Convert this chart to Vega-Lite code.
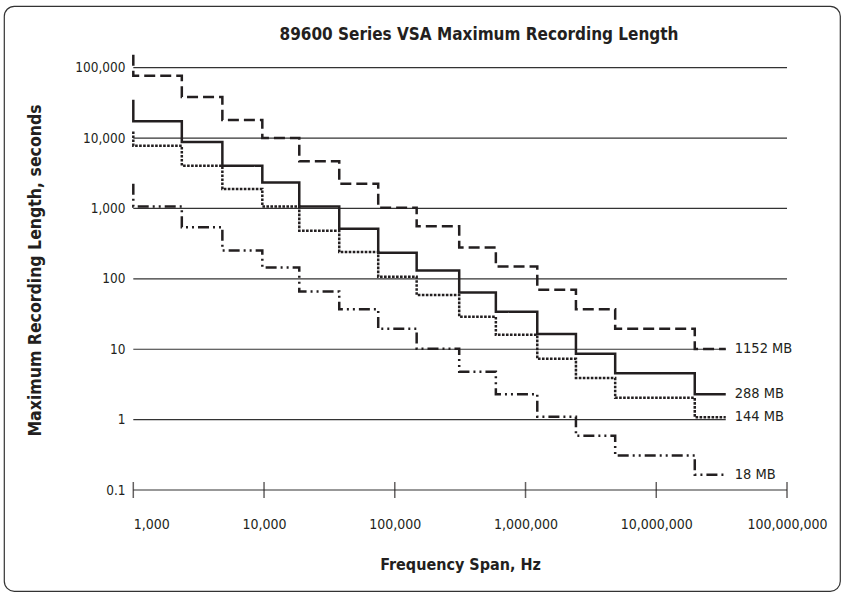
{
  "$schema": "https://vega.github.io/schema/vega-lite/v6.json",
  "description": "89600 Series VSA maximum recording length vs frequency span",
  "width": 836,
  "height": 585,
  "autosize": "none",
  "padding": {"left": 4, "top": 6, "right": 4, "bottom": 4},
  "background": "white",
  "title": {
    "text": "89600 Series VSA Maximum Recording Length",
    "fontSize": 17,
    "fontWeight": "bold",
    "color": "#231f20",
    "anchor": "middle",
    "frame": "group",
    "dx": 57,
    "offset": -38
  },
  "datasets": {
    "series": [
      {"series": "1152 MB", "idx": 0, "freq": 1000, "seconds": 153000},
      {"series": "1152 MB", "idx": 1, "freq": 1000, "seconds": 76800},
      {"series": "1152 MB", "idx": 2, "freq": 2350, "seconds": 38400},
      {"series": "1152 MB", "idx": 3, "freq": 4800, "seconds": 18000},
      {"series": "1152 MB", "idx": 4, "freq": 9700, "seconds": 10000},
      {"series": "1152 MB", "idx": 5, "freq": 18600, "seconds": 4700},
      {"series": "1152 MB", "idx": 6, "freq": 37600, "seconds": 2250},
      {"series": "1152 MB", "idx": 7, "freq": 74700, "seconds": 1020},
      {"series": "1152 MB", "idx": 8, "freq": 147000, "seconds": 560},
      {"series": "1152 MB", "idx": 9, "freq": 311000, "seconds": 280},
      {"series": "1152 MB", "idx": 10, "freq": 593000, "seconds": 150},
      {"series": "1152 MB", "idx": 11, "freq": 1230000, "seconds": 70},
      {"series": "1152 MB", "idx": 12, "freq": 2430000, "seconds": 37},
      {"series": "1152 MB", "idx": 13, "freq": 4850000, "seconds": 19.5},
      {"series": "1152 MB", "idx": 14, "freq": 19700000, "seconds": 10.1},
      {"series": "1152 MB", "idx": 15, "freq": 34000000, "seconds": 10.1},
      {"series": "288 MB", "idx": 0, "freq": 1000, "seconds": 35000},
      {"series": "288 MB", "idx": 1, "freq": 1000, "seconds": 17300},
      {"series": "288 MB", "idx": 2, "freq": 2350, "seconds": 8800},
      {"series": "288 MB", "idx": 3, "freq": 4800, "seconds": 4050},
      {"series": "288 MB", "idx": 4, "freq": 9700, "seconds": 2340},
      {"series": "288 MB", "idx": 5, "freq": 18600, "seconds": 1070},
      {"series": "288 MB", "idx": 6, "freq": 37600, "seconds": 514},
      {"series": "288 MB", "idx": 7, "freq": 74700, "seconds": 235},
      {"series": "288 MB", "idx": 8, "freq": 147000, "seconds": 131},
      {"series": "288 MB", "idx": 9, "freq": 311000, "seconds": 64},
      {"series": "288 MB", "idx": 10, "freq": 593000, "seconds": 34},
      {"series": "288 MB", "idx": 11, "freq": 1230000, "seconds": 16.4},
      {"series": "288 MB", "idx": 12, "freq": 2430000, "seconds": 8.6},
      {"series": "288 MB", "idx": 13, "freq": 4850000, "seconds": 4.55},
      {"series": "288 MB", "idx": 14, "freq": 19700000, "seconds": 2.3},
      {"series": "288 MB", "idx": 15, "freq": 34000000, "seconds": 2.3},
      {"series": "144 MB", "idx": 0, "freq": 1000, "seconds": 12400},
      {"series": "144 MB", "idx": 1, "freq": 1000, "seconds": 7800},
      {"series": "144 MB", "idx": 2, "freq": 2350, "seconds": 4050},
      {"series": "144 MB", "idx": 3, "freq": 4800, "seconds": 1890},
      {"series": "144 MB", "idx": 4, "freq": 9700, "seconds": 1070},
      {"series": "144 MB", "idx": 5, "freq": 18600, "seconds": 482},
      {"series": "144 MB", "idx": 6, "freq": 37600, "seconds": 240},
      {"series": "144 MB", "idx": 7, "freq": 74700, "seconds": 107},
      {"series": "144 MB", "idx": 8, "freq": 147000, "seconds": 59},
      {"series": "144 MB", "idx": 9, "freq": 311000, "seconds": 29},
      {"series": "144 MB", "idx": 10, "freq": 593000, "seconds": 16},
      {"series": "144 MB", "idx": 11, "freq": 1230000, "seconds": 7.3},
      {"series": "144 MB", "idx": 12, "freq": 2430000, "seconds": 3.9},
      {"series": "144 MB", "idx": 13, "freq": 4850000, "seconds": 2.05},
      {"series": "144 MB", "idx": 14, "freq": 19700000, "seconds": 1.08},
      {"series": "144 MB", "idx": 15, "freq": 34000000, "seconds": 1.08},
      {"series": "18 MB", "idx": 0, "freq": 1000, "seconds": 2240},
      {"series": "18 MB", "idx": 1, "freq": 1000, "seconds": 1070},
      {"series": "18 MB", "idx": 2, "freq": 2350, "seconds": 543},
      {"series": "18 MB", "idx": 3, "freq": 4800, "seconds": 253},
      {"series": "18 MB", "idx": 4, "freq": 9700, "seconds": 145},
      {"series": "18 MB", "idx": 5, "freq": 18600, "seconds": 66},
      {"series": "18 MB", "idx": 6, "freq": 37600, "seconds": 37},
      {"series": "18 MB", "idx": 7, "freq": 74700, "seconds": 19.5},
      {"series": "18 MB", "idx": 8, "freq": 147000, "seconds": 10.2},
      {"series": "18 MB", "idx": 9, "freq": 311000, "seconds": 4.8},
      {"series": "18 MB", "idx": 10, "freq": 593000, "seconds": 2.3},
      {"series": "18 MB", "idx": 11, "freq": 1230000, "seconds": 1.1},
      {"series": "18 MB", "idx": 12, "freq": 2430000, "seconds": 0.59},
      {"series": "18 MB", "idx": 13, "freq": 4850000, "seconds": 0.31},
      {"series": "18 MB", "idx": 14, "freq": 19700000, "seconds": 0.165},
      {"series": "18 MB", "idx": 15, "freq": 34000000, "seconds": 0.165}
    ]
  },
  "encoding": {
    "x": {
      "field": "freq",
      "type": "quantitative",
      "scale": {"type": "log", "domain": [102.57, 254280000], "nice": false, "zero": false},
      "axis": {
        "orient": "bottom",
        "offset": -101,
        "values": [1000, 10000, 100000, 1000000, 10000000, 100000000],
        "format": ",",
        "domain": false,
        "ticks": false,
        "grid": false,
        "labelPadding": 27,
        "labelFontSize": 14,
        "labelColor": "#231f20",
        "labelOverlap": false,
        "labelFlush": false,
        "labelAlign": {"condition": {"test": "datum.value == 1000", "value": "left"}, "value": "center"},
        "title": "Frequency Span, Hz",
        "titleFontSize": 16,
        "titleFontWeight": "bold",
        "titleColor": "#231f20",
        "titleX": 456,
        "titleY": 74,
        "titleAlign": "center",
        "titleBaseline": "middle"
      }
    },
    "y": {
      "field": "seconds",
      "type": "quantitative",
      "scale": {"type": "log", "domain": [0.003673, 752700], "nice": false, "zero": false},
      "axis": {
        "orient": "left",
        "offset": -129,
        "values": [0.1, 1, 10, 100, 1000, 10000, 100000],
        "format": ",",
        "domain": false,
        "ticks": false,
        "grid": false,
        "labelPadding": 8,
        "labelFontSize": 13.5,
        "labelColor": "#231f20",
        "labelOverlap": false,
        "labelFlush": false,
        "title": "Maximum Recording Length, seconds",
        "titleFontSize": 17.5,
        "titleFontWeight": "bold",
        "titleColor": "#231f20",
        "titleAngle": -90,
        "titleX": -98,
        "titleY": 264,
        "titleAlign": "center",
        "titleBaseline": "middle"
      }
    }
  },
  "layer": [
    {
      "data": {"values": [
        {"seconds": 0.1, "from": 1000, "to": 100000000},
        {"seconds": 1, "from": 1000, "to": 34000000},
        {"seconds": 10, "from": 1000, "to": 34000000},
        {"seconds": 100, "from": 1000, "to": 100000000},
        {"seconds": 1000, "from": 1000, "to": 100000000},
        {"seconds": 10000, "from": 1000, "to": 100000000},
        {"seconds": 100000, "from": 1000, "to": 100000000}
      ]},
      "mark": {"type": "rule", "color": "#333333", "strokeWidth": 1.2},
      "encoding": {
        "x": {"field": "from", "type": "quantitative"},
        "x2": {"field": "to"}
      }
    },
    {
      "data": {"values": [
        {"freq": 1000, "seconds": 0.1}, {"freq": 10000, "seconds": 0.1},
        {"freq": 100000, "seconds": 0.1}, {"freq": 1000000, "seconds": 0.1},
        {"freq": 10000000, "seconds": 0.1}, {"freq": 100000000, "seconds": 0.1}
      ]},
      "mark": {"type": "tick", "orient": "vertical", "color": "#231f20", "size": 16, "thickness": 1.5}
    },
    {
      "data": {"name": "series"},
      "mark": {"type": "line", "interpolate": "step-after", "color": "#231f20", "strokeCap": "butt"},
      "encoding": {
        "detail": {"field": "series"},
        "order": {"field": "idx", "type": "quantitative"},
        "strokeDash": {
          "field": "series",
          "type": "nominal",
          "scale": {
            "domain": ["1152 MB", "288 MB", "144 MB", "18 MB"],
            "range": [[11, 5], [1, 0], [2.6, 1.4], [11, 4, 2, 4, 2, 4]]
          },
          "legend": null
        },
        "strokeWidth": {
          "field": "series",
          "type": "nominal",
          "scale": {
            "domain": ["1152 MB", "288 MB", "144 MB", "18 MB"],
            "range": [2.5, 2.5, 3.6, 2.5]
          },
          "legend": null
        }
      }
    },
    {
      "data": {"name": "series"},
      "transform": [
        {"joinaggregate": [{"op": "max", "field": "idx", "as": "last"}], "groupby": ["series"]},
        {"filter": "datum.idx == datum.last"}
      ],
      "mark": {"type": "text", "align": "left", "baseline": "middle", "dx": 9, "fontSize": 14.5, "color": "#231f20"},
      "encoding": {
        "text": {"field": "series"}
      }
    }
  ],
  "config": {
    "font": "'Liberation Sans Narrow', 'DejaVu Sans Condensed', 'Arial Narrow', sans-serif",
    "view": {"stroke": "#333333", "strokeWidth": 1.2, "cornerRadius": 10}
  }
}
